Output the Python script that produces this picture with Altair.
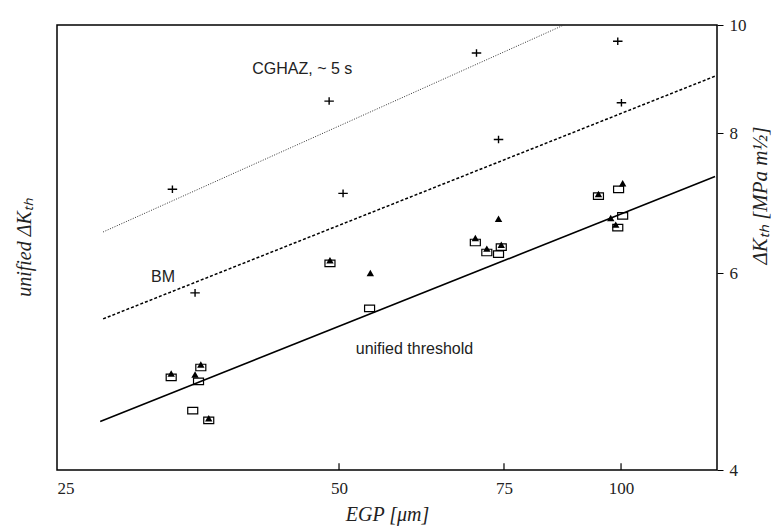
import altair as alt
import pandas as pd

# CGHAZ (~5 s) data, plus markers
plus_x = [33.2, 35.1, 48.8, 50.5, 70.1, 74.0, 99.2, 100.1]
plus_y = [7.13, 5.76, 8.55, 7.07, 9.44, 7.90, 9.67, 8.52]

# filled triangles
tri_x = [33.1, 35.1, 35.6, 36.3, 48.9, 54.0, 69.9, 71.9, 74.0, 74.5, 94.6, 100.4, 97.5, 98.7]
tri_y = [4.88, 4.87, 4.97, 4.45, 6.16, 6.00, 6.45, 6.31, 6.71, 6.36, 7.06, 7.22, 6.72, 6.63]

# open squares
sq_x = [33.1, 35.4, 35.6, 34.9, 36.3, 48.9, 53.9, 69.9, 71.9, 74.0, 74.5, 94.6, 99.4, 100.4, 99.2]
sq_y = [4.84, 4.80, 4.94, 4.52, 4.43, 6.12, 5.58, 6.39, 6.26, 6.24, 6.33, 7.03, 7.13, 6.75, 6.59]

# fitted lines (straight in log-log)
unified_x = [27.8, 126.0]
unified_y = [4.42, 7.32]
bm_x = [28.0, 126.0]
bm_y = [5.46, 9.00]
cghaz_x = [28.0, 88.3]
cghaz_y = [6.53, 10.06]

# annotations
ann_text = ["CGHAZ,  ~ 5 s", "BM", "unified threshold"]
ann_x = [40.4, 31.5, 52.1]
ann_y = [9.13, 5.95, 5.13]

x_ticks = [25, 50, 75, 100]
y_ticks = [4, 6, 8, 10]
# inward x tick marks (drawn from the bottom edge upward)
xtick_pos = [50, 75, 100]
xtick_lo = [4.0, 4.0, 4.0]
xtick_hi = [4.055, 4.055, 4.055]


def frame(xs, ys):
    return pd.DataFrame({"egp": xs, "dk": ys})


xscale = alt.Scale(type="log", domain=[25, 126.6], nice=False)
yscale = alt.Scale(type="log", domain=[4, 10], nice=False)

xaxis = alt.Axis(values=x_ticks, format="d", title="EGP  [μm]", grid=False,
                 domain=False, ticks=False, labelPadding=10, titlePadding=8)
yaxis = alt.Axis(orient="right", values=y_ticks, format="d",
                 title="ΔKₜₕ  [MPa m½]", grid=False, domain=False,
                 tickSize=6, tickColor="black", labelPadding=6,
                 titleAngle=270, titleBaseline="middle", titleX=43, titleY=170,
                 titleFontSize=21)

X = alt.X("egp:Q", scale=xscale, axis=xaxis)
Y = alt.Y("dk:Q", scale=yscale, axis=yaxis)

line_unified = alt.Chart(frame(unified_x, unified_y)).mark_line(
    color="black", strokeWidth=1.6, clip=True).encode(x=X, y=Y)
line_bm = alt.Chart(frame(bm_x, bm_y)).mark_line(
    color="black", strokeWidth=1.5, strokeDash=[3, 2], clip=True).encode(x=X, y=Y)
line_cghaz = alt.Chart(frame(cghaz_x, cghaz_y)).mark_line(
    color="#333", strokeWidth=1.0, strokeDash=[1, 1.5], clip=True).encode(x=X, y=Y)

tick_df = pd.DataFrame({"egp": xtick_pos, "dk": xtick_lo, "dk2": xtick_hi})
xticks_marks = alt.Chart(tick_df).mark_rule(color="black", strokeWidth=1.2).encode(
    x=X, y=Y, y2="dk2:Q")

squares = alt.Chart(frame(sq_x, sq_y)).mark_point(
    shape="M-1,-0.65L1,-0.65L1,0.65L-1,0.65Z", filled=False, stroke="black",
    strokeWidth=1.2, size=100, opacity=1).encode(x=X, y=Y)
triangles = alt.Chart(frame(tri_x, tri_y)).mark_point(
    shape="triangle-up", filled=True, color="black", size=55, opacity=1).encode(x=X, y=Y)
pluses = alt.Chart(frame(plus_x, plus_y)).mark_point(
    shape="M-1,0L1,0M0,-0.8L0,0.8", filled=False, stroke="black",
    strokeWidth=1.4, size=90, opacity=1).encode(x=X, y=Y)

ann_df = pd.DataFrame({"egp": ann_x, "dk": ann_y, "label": ann_text})
labels = alt.Chart(ann_df).mark_text(
    align="left", baseline="middle", font="Liberation Sans", fontSize=16,
    color="#222").encode(x=X, y=Y, text="label:N")

chart = alt.layer(
    line_cghaz, line_bm, line_unified, xticks_marks, squares, triangles, pluses, labels
).properties(
    width=660, height=445,
    autosize=alt.AutoSizeParams(type="none"),
    padding={"left": 57, "top": 25, "right": 57, "bottom": 61},
    title=alt.TitleParams("unified ΔKₜₕ", orient="left", anchor="middle",
                          font="Liberation Serif", fontStyle="italic",
                          fontSize=20, fontWeight="normal", color="#222",
                          offset=22),
).configure_view(
    stroke="black", strokeWidth=1.5
).configure_axis(
    labelFont="Liberation Serif", labelFontSize=17, labelColor="#222",
    titleFont="Liberation Serif", titleFontStyle="italic", titleFontSize=20,
    titleFontWeight="normal", titleColor="#222"
)

chart.save("out.html", embed_options={"renderer": "svg", "actions": False})
